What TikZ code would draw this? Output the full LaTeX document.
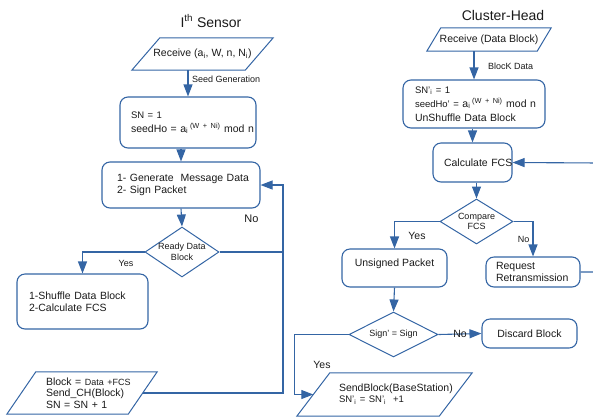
\documentclass[tikz,border=0pt]{standalone}
\usepackage{fontspec}
\setmainfont{Liberation Sans}
\usetikzlibrary{arrows.meta,shapes.geometric}
\definecolor{flowblue}{RGB}{52,101,164}
\definecolor{flowtext}{RGB}{26,26,26}
\hfuzz=\maxdimen
\hbadness=10000
% slanted frame round a plain node: #1 node name, #2 lean
\newcommand{\ioframe}[2]{\draw[conn, line width=1pt] ([xshift=#2]#1.north west) -- (#1.north east) -- ([xshift=-#2]#1.south east) -- (#1.south west) -- cycle;}

\begin{document}
\begin{tikzpicture}[x=1pt,y=-1pt]
\tikzstyle{every node}=[text=flowtext, font=\fontsize{10.5}{12}\selectfont]
\tikzstyle{box}=[draw=flowblue, line width=1.1pt, rounded corners=8pt, align=left, inner sep=0pt]
\tikzstyle{io}=[rectangle, inner sep=0pt, align=left]
\tikzstyle{decide}=[draw=flowblue, line width=1pt, diamond, inner sep=-2pt, align=center, font=\fontsize{9}{10.5}\selectfont]
\tikzstyle{lab}=[inner sep=0pt, font=\fontsize{9}{10}\selectfont]
\tikzstyle{flow}=[draw=flowblue, line width=1.1pt, -{Triangle[length=12pt,width=9pt]}]
\tikzstyle{conn}=[draw=flowblue, line width=1.1pt]
\useasboundingbox (0,0) rectangle (593,416);
% sensor side
\draw (211,21) node (titleS) [font=\fontsize{14}{16}\selectfont] {I\textsuperscript{th} Sensor};
\draw (202.5,54) node (recvS) [io, minimum width=141pt, minimum height=32pt] {Receive (a\textsubscript{i}, W, n, N\textsubscript{i})};
\ioframe{recvS}{28pt}
\draw (188,122.5) node (initS) [box, minimum width=136pt, minimum height=51pt, text width=114pt, font=\fontsize{10.5}{14}\selectfont] {\mbox{\fontsize{9.5}{14}\selectfont SN = 1}\\\mbox{seedHo = a\textsubscript{i}\,\textsuperscript{(W + Ni)} mod n}};
\draw (181,185) node (genS) [box, minimum width=158pt, minimum height=46pt, text width=128pt] {\mbox{1- Generate\ \ Message Data}\\\mbox{2- Sign Packet}};
\draw (182,252) node (readyS) [decide, minimum width=74pt, minimum height=50pt, aspect=1.48] {Ready Data\\Block};
\draw (82.5,301.5) node (shufS) [box, minimum width=131pt, minimum height=55pt, text width=107pt] {\mbox{1-Shuffle Data Block}\\\mbox{2-Calculate FCS}};
\draw (82,393) node (blockS) [io, minimum width=150pt, minimum height=42pt, text width=72pt, font=\fontsize{10.5}{11.5}\selectfont] {\mbox{Block = {\fontsize{9}{11.5}\selectfont Data +FCS}}\\\mbox{Send\_CH(Block)}\\\mbox{SN = SN + 1}};
\ioframe{blockS}{29pt}
\coordinate (loopS) at (283,185);
\draw [flow] (initS.north |- recvS.south) -- (initS.north);
\draw (192,79) node (seedlab) [lab, anchor=west] {Seed Generation};
\draw [flow] (genS.north |- initS.south) -- (genS.north);
\draw [flow] (genS.south) -- (readyS.north);
\draw [flow] (readyS.west) -| (shufS.north);
\draw (126,263) node (yesS) [lab] {Yes};
\draw [conn] (readyS.east) -- (readyS.east -| loopS);
\draw [flow] ([xshift=-14.5pt]blockS.east) -| (loopS) -- (genS.east);
\draw (251.5,219) node (noS) [font=\fontsize{11}{12}\selectfont] {No};
% cluster-head side
\draw (503,15) node (titleC) [font=\fontsize{14}{16}\selectfont] {Cluster-Head};
\draw (489,39.5) node (recvC) [io, minimum width=124pt, minimum height=23pt] {Receive (Data Block)};
\ioframe{recvC}{14pt}
\draw (474,104) node (initC) [box, minimum width=142pt, minimum height=48pt, text width=118pt, font=\fontsize{10.5}{14}\selectfont] {\mbox{\fontsize{9.5}{14}\selectfont SN'\textsubscript{i} = 1}\\\mbox{{\fontsize{9.5}{14}\selectfont seedHo' =} a\textsubscript{i}\,\textsuperscript{(W + Ni)} mod n}\\\mbox{UnShuffle Data Block}};
\draw (488,66) node (blocklab) [lab, anchor=west] {BlocK Data};
\draw (472.5,162.5) node (calcC) [box, minimum width=79pt, minimum height=39pt, text width=57pt] {\mbox{Calculate FCS}};
\draw (476.5,221.5) node (cmpC) [decide, minimum width=73pt, minimum height=45pt, aspect=1.62] {Compare\\FCS};
\draw (394.5,268) node (unsigC) [box, minimum width=105pt, minimum height=38pt, text depth=10pt] {Unsigned Packet};
\draw (533,272) node (reqC) [box, minimum width=94pt, minimum height=30pt, text width=74pt] {\mbox{Request}\\\mbox{Retransmission}};
\draw (393.5,334.5) node (signC) [decide, minimum width=89pt, minimum height=45pt, aspect=1.98] {Sign' = Sign};
\draw (529.5,333.5) node (discC) [box, minimum width=95pt, minimum height=29pt] {Discard Block};
\draw (384.5,394.5) node (sendC) [io, minimum width=175pt, minimum height=43pt, text width=91pt, font=\fontsize{10.5}{11}\selectfont] {\mbox{SendBlock(BaseStation)}\\\mbox{\fontsize{9.5}{11}\selectfont SN'\textsubscript{i} = SN'\textsubscript{i}\ \ +1}};
\ioframe{sendC}{33pt}
\coordinate (loopC) at (600,163);
\draw [flow] (initC.north |- recvC.south) -- (initC.north);
\draw [flow] (calcC.north |- initC.south) -- (calcC.north);
\draw [flow] (cmpC.north |- calcC.south) -- (cmpC.north);
\draw [flow] (cmpC.west) -| (unsigC.north);
\draw (417,236) node (yesC) {Yes};
\draw [flow] (cmpC.east) -| (reqC.north);
\draw (523.5,239) node (noC) [lab] {No};
\draw [flow] (reqC.east) -| (loopC) -- (calcC.east);
\draw [flow] (unsigC.south) -- (signC.north);
\draw [flow] (signC.east) -- (discC.west);
\draw (460,334) node (noD) {No};
\draw [flow] (signC.west) -- ++(-54,0) |- ([xshift=16.5pt]sendC.west);
\draw (322,365) node (yesD) {Yes};
\end{tikzpicture}
\end{document}
